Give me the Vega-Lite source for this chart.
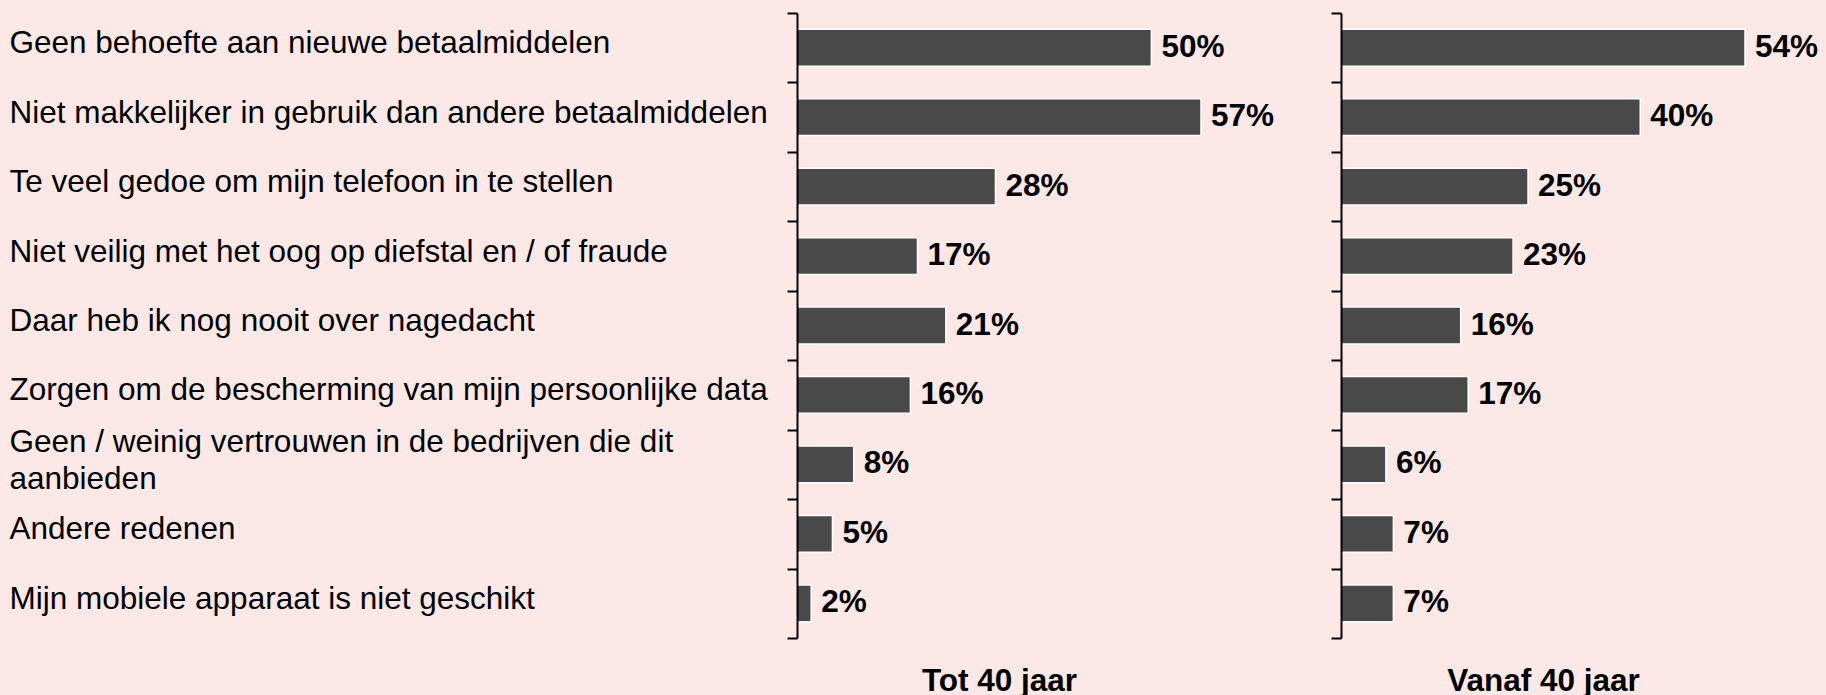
{
  "$schema": "https://vega.github.io/schema/vega-lite/v6.json",
  "background": "#FCE8E6",
  "padding": {"left": 9, "top": -3, "right": 20, "bottom": 4},
  "bounds": "flush",
  "spacing": 140,
  "config": {"font": "Liberation Sans", "view": {"stroke": null}},
  "datasets": {
    "rows": [
      {"reden": "Geen behoefte aan nieuwe betaalmiddelen", "groep": "Tot 40 jaar", "aandeel": 0.50},
      {"reden": "Niet makkelijker in gebruik dan andere betaalmiddelen", "groep": "Tot 40 jaar", "aandeel": 0.57},
      {"reden": "Te veel gedoe om mijn telefoon in te stellen", "groep": "Tot 40 jaar", "aandeel": 0.28},
      {"reden": "Niet veilig met het oog op diefstal en / of fraude", "groep": "Tot 40 jaar", "aandeel": 0.17},
      {"reden": "Daar heb ik nog nooit over nagedacht", "groep": "Tot 40 jaar", "aandeel": 0.21},
      {"reden": "Zorgen om de bescherming van mijn persoonlijke data", "groep": "Tot 40 jaar", "aandeel": 0.16},
      {"reden": "Geen / weinig vertrouwen in de bedrijven die dit|aanbieden", "groep": "Tot 40 jaar", "aandeel": 0.08},
      {"reden": "Andere redenen", "groep": "Tot 40 jaar", "aandeel": 0.05},
      {"reden": "Mijn mobiele apparaat is niet geschikt", "groep": "Tot 40 jaar", "aandeel": 0.02},
      {"reden": "Geen behoefte aan nieuwe betaalmiddelen", "groep": "Vanaf 40 jaar", "aandeel": 0.54},
      {"reden": "Niet makkelijker in gebruik dan andere betaalmiddelen", "groep": "Vanaf 40 jaar", "aandeel": 0.40},
      {"reden": "Te veel gedoe om mijn telefoon in te stellen", "groep": "Vanaf 40 jaar", "aandeel": 0.25},
      {"reden": "Niet veilig met het oog op diefstal en / of fraude", "groep": "Vanaf 40 jaar", "aandeel": 0.23},
      {"reden": "Daar heb ik nog nooit over nagedacht", "groep": "Vanaf 40 jaar", "aandeel": 0.16},
      {"reden": "Zorgen om de bescherming van mijn persoonlijke data", "groep": "Vanaf 40 jaar", "aandeel": 0.17},
      {"reden": "Geen / weinig vertrouwen in de bedrijven die dit|aanbieden", "groep": "Vanaf 40 jaar", "aandeel": 0.06},
      {"reden": "Andere redenen", "groep": "Vanaf 40 jaar", "aandeel": 0.07},
      {"reden": "Mijn mobiele apparaat is niet geschikt", "groep": "Vanaf 40 jaar", "aandeel": 0.07}
    ]
  },
  "hconcat": [
    {
      "width": 404,
      "height": 625,
      "data": {"name": "rows"},
      "transform": [{"filter": "datum.groep === 'Tot 40 jaar'"}],
      "encoding": {
        "y": {
          "field": "reden", "type": "nominal", "sort": null,
          "scale": {"paddingInner": 0, "paddingOuter": 0},
          "axis": {
            "title": null, "zindex": 1, "labelAlign": "left", "labelBaseline": "middle", "labelPadding": 778, "labelLimit": 0,
            "labelFontSize": 31.5, "labelColor": "black",
            "labelOffset": {"condition": {"test": "datum.value === 'Geen / weinig vertrouwen in de bedrijven die dit|aanbieden'", "value": -22}, "value": -4},
            "labelExpr": "split(datum.label, '|')", "labelLineHeight": 37.5,
            "tickSize": 10, "tickColor": "black", "tickWidth": 2, "tickBand": "extent",
            "domainColor": "black", "domainWidth": 2
          }
        },
        "x": {
          "field": "aandeel", "type": "quantitative",
          "scale": {"domain": [0, 0.57], "nice": false},
          "axis": {"title": "Tot 40 jaar", "labels": false, "ticks": false, "domain": false, "grid": false,
                   "titleFontSize": 31.5, "titleFontWeight": "bold", "titleColor": "black", "titlePadding": 27}
        }
      },
      "layer": [
        {"mark": {"type": "bar", "color": "#494949", "stroke": "white", "strokeWidth": 1.5, "height": {"band": 0.53}}},
        {"mark": {"type": "text", "align": "left", "baseline": "middle", "dx": 10, "fontSize": 31.5, "fontWeight": "bold", "color": "black"},
         "encoding": {"text": {"field": "aandeel", "type": "quantitative", "format": ".0%"}}}
      ]
    },
    {
      "width": 404,
      "height": 625,
      "data": {"name": "rows"},
      "transform": [{"filter": "datum.groep === 'Vanaf 40 jaar'"}],
      "encoding": {
        "y": {
          "field": "reden", "type": "nominal", "sort": null,
          "scale": {"paddingInner": 0, "paddingOuter": 0},
          "axis": {
            "title": null, "zindex": 1, "labels": false,
            "tickSize": 10, "tickColor": "black", "tickWidth": 2, "tickBand": "extent",
            "domainColor": "black", "domainWidth": 2
          }
        },
        "x": {
          "field": "aandeel", "type": "quantitative",
          "scale": {"domain": [0, 0.54], "nice": false},
          "axis": {"title": "Vanaf 40 jaar", "labels": false, "ticks": false, "domain": false, "grid": false,
                   "titleFontSize": 31.5, "titleFontWeight": "bold", "titleColor": "black", "titlePadding": 27}
        }
      },
      "layer": [
        {"mark": {"type": "bar", "color": "#494949", "stroke": "white", "strokeWidth": 1.5, "height": {"band": 0.53}}},
        {"mark": {"type": "text", "align": "left", "baseline": "middle", "dx": 10, "fontSize": 31.5, "fontWeight": "bold", "color": "black"},
         "encoding": {"text": {"field": "aandeel", "type": "quantitative", "format": ".0%"}}}
      ]
    }
  ]
}
